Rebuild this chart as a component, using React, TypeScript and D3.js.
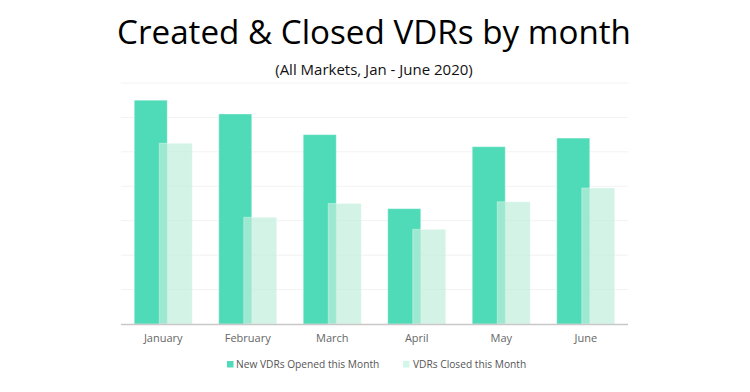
import * as d3 from "d3";

const months = ["January", "February", "March", "April", "May", "June"];
const opened = [65, 61, 55, 33.5, 51.5, 54];
const closed = [52.5, 31, 35, 27.5, 35.5, 39.5];
const yTicks = [0, 10, 20, 30, 40, 50, 60, 70];
const seriesNames = ["New VDRs Opened this Month", "VDRs Closed this Month"];

export default function App() {
  const width = 750;
  const height = 392;
  const left = 121;
  const right = 628;
  const top = 83;
  const bottom = 324;

  const x = d3.scaleBand().domain(months).range([left, right]);
  const y = d3.scaleLinear().domain([0, 70]).range([bottom, top]);

  const barW = 33;
  const off = 12.5;
  const openColor = "#4fdbb7";
  const closedColor = "rgba(191,238,218,0.7)";
  const font = "'Open Sans', sans-serif";

  return (
    <svg
      width={width}
      height={height}
      style={{ position: "absolute", left: 0, top: 0, background: "#fff" }}
    >
      <text x={374} y={44} textAnchor="middle" fontFamily={font} fontSize={33.2} fill="#000">
        Created &amp; Closed VDRs by month
      </text>
      <text x={374} y={75} textAnchor="middle" fontFamily={font} fontSize={15} fill="#111">
        (All Markets, Jan - June 2020)
      </text>

      {yTicks.slice(1).map((t) => (
        <line key={t} x1={left} x2={right} y1={y(t)} y2={y(t)} stroke="#f2f2f2" strokeWidth={1} />
      ))}

      {months.map((m, i) => {
        const cx = x(m)! + x.bandwidth() / 2;
        return (
          <g key={m}>
            <rect
              x={cx - off - barW / 2}
              y={y(opened[i])}
              width={barW}
              height={bottom - y(opened[i])}
              fill={openColor}
              stroke="rgba(255,255,255,0.35)"
              strokeWidth={1}
            />
            <rect
              x={cx + off - barW / 2}
              y={y(closed[i])}
              width={barW}
              height={bottom - y(closed[i])}
              fill={closedColor}
              stroke="rgba(255,255,255,0.35)"
              strokeWidth={1}
            />
            <text x={cx} y={342} textAnchor="middle" fontFamily={font} fontSize={11} fill="#666">
              {m}
            </text>
          </g>
        );
      })}

      <line x1={left} x2={right} y1={bottom + 0.5} y2={bottom + 0.5} stroke="#c8c8c8" strokeWidth={1.5} />

      <g fontFamily={font} fontSize={10.2} fill="#555">
        <rect x={227} y={361} width={6.5} height={6.5} fill={openColor} />
        <text x={236} y={368}>{seriesNames[0]}</text>
        <rect x={403} y={361} width={6.5} height={6.5} fill="#d2f6e9" />
        <text x={413} y={368}>{seriesNames[1]}</text>
      </g>
    </svg>
  );
}
